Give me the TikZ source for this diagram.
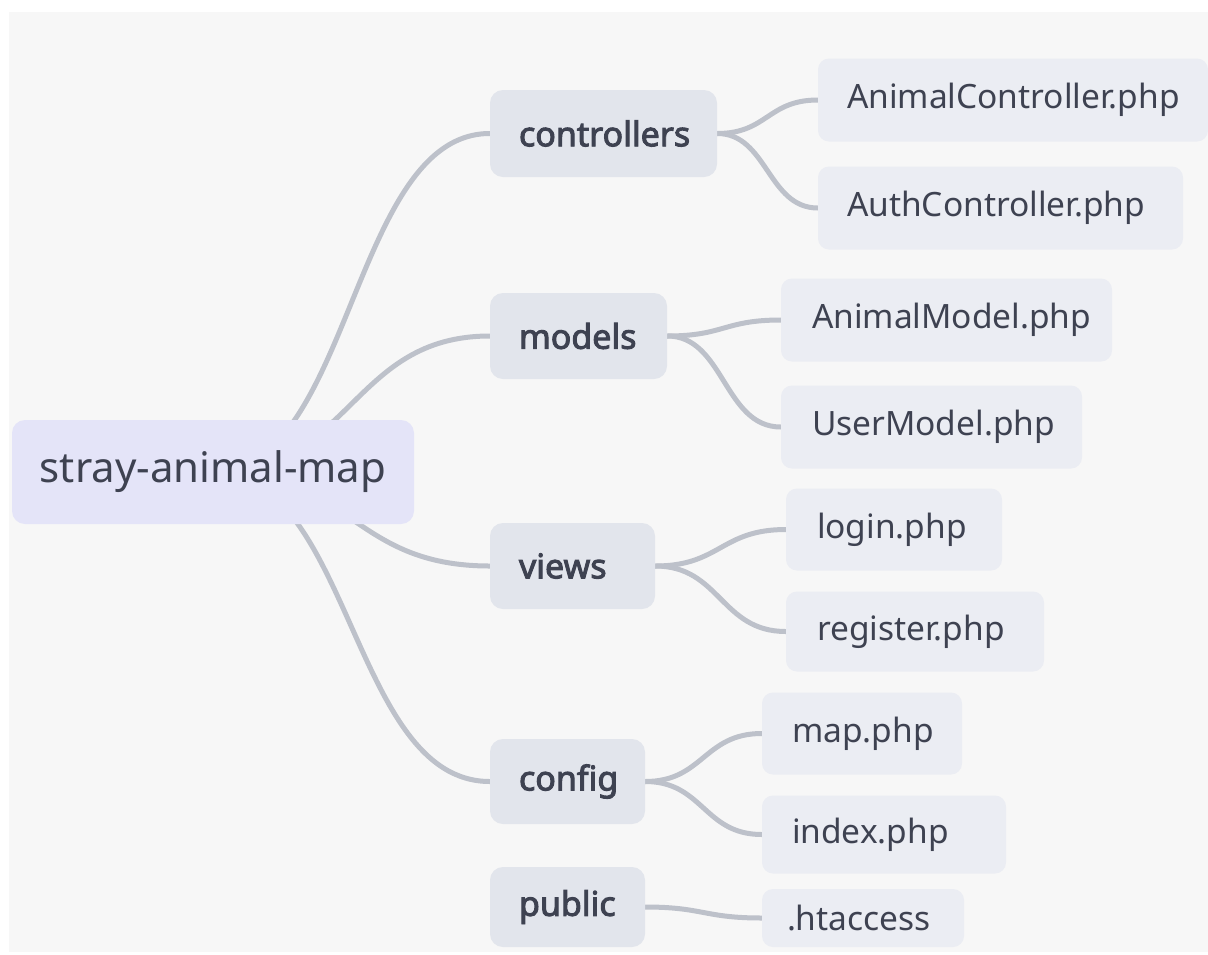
\documentclass[tikz,border=0pt]{standalone}
\usepackage{fontspec}
\setmainfont{Noto Sans}
\newfontfamily\dirfont{Noto Sans}[FakeBold=2.8]
\pgfdeclarelayer{bg}
\pgfsetlayers{bg,main}

\definecolor{canvas}{HTML}{F7F7F7}
\definecolor{rootfill}{HTML}{E4E4F8}
\definecolor{dirfill}{HTML}{E2E5EC}
\definecolor{filefill}{HTML}{EBEDF3}
\definecolor{ink}{HTML}{3E4251}
\definecolor{wire}{HTML}{BDC1CA}

% label set flush left inside a box of the given width
\newcommand{\lbl}[2]{\makebox[#1][l]{#2}}

\tikzset{
  rootbox/.style={fill=rootfill, rounded corners=13pt, text=ink, inner sep=0pt,
    font=\fontsize{42}{50}\selectfont},
  dirbox/.style={fill=dirfill, rounded corners=13pt, text=ink, inner sep=0pt,
    font=\dirfont\fontsize{34}{40}\selectfont},
  filebox/.style={fill=filefill, rounded corners=11pt, text=ink, inner sep=0pt,
    font=\fontsize{33.5}{40}\selectfont},
  wirestyle/.style={draw=wire, line width=5pt, line cap=round},
  trunk/.style={wirestyle, to path={.. controls +(138.5,0) and +(-138.5,0) .. (\tikztotarget)}},
  twig/.style={wirestyle, to path={.. controls +(#1,0) and +(-#1,0) .. (\tikztotarget)}}
}

\begin{document}
\begin{tikzpicture}[x=1pt, y=-1pt]
\useasboundingbox (0,0) rectangle (1208,954);

% root
\node[rootbox, minimum width=402pt, minimum height=104pt] (root) at (213,472) {stray-animal-map};

% directories
\node[dirbox, minimum width=227pt, minimum height=87pt] (ctl) at (603.5,133.5) {\lbl{169pt}{controllers}};
\node[dirbox, minimum width=177pt, minimum height=86pt] (mdl) at (578.5,336) {\lbl{119pt}{models}};
\node[dirbox, minimum width=165pt, minimum height=86pt] (vws) at (572.5,566) {\lbl{107pt}{views}};
\node[dirbox, minimum width=155pt, minimum height=85pt] (cfg) at (567.5,781.5) {\lbl{97pt}{config}};
\node[dirbox, minimum width=155pt, minimum height=80pt] (pub) at (567.5,907) {\lbl{97pt}{public}};

% files
\node[filebox, minimum width=390pt, minimum height=83pt] (anc) at (1013,100) {\lbl{332pt}{AnimalController.php}};
\node[filebox, minimum width=365pt, minimum height=83pt] (auc) at (1000.5,208) {\lbl{307pt}{AuthController.php}};
\node[filebox, minimum width=331pt, minimum height=83pt] (anm) at (946.5,320) {\lbl{269pt}{AnimalModel.php}};
\node[filebox, minimum width=301pt, minimum height=83pt] (usm) at (931.5,427) {\lbl{239pt}{UserModel.php}};
\node[filebox, minimum width=216pt, minimum height=82pt] (lgn) at (894,529.5) {\lbl{154pt}{login.php}};
\node[filebox, minimum width=258pt, minimum height=80pt] (reg) at (915,631.5) {\lbl{196pt}{register.php}};
\node[filebox, minimum width=200pt, minimum height=82pt] (map) at (862,733.5) {\lbl{140pt}{map.php}};
\node[filebox, minimum width=244pt, minimum height=78pt] (idx) at (884,834.5) {\lbl{184pt}{index.php}};
\node[filebox, minimum width=202pt, minimum height=58pt] (hta) at (863,918) {\lbl{152pt}{.htaccess}};

\begin{pgfonlayer}{bg}
  \fill[white] (0,0) rectangle (1208,954);
  \fill[canvas] (9,12) rectangle (1208,952);
  % root to directories
  \draw[trunk] (root.center) to (ctl.west);
  \draw[trunk] (root.center) to (mdl.west);
  \draw[trunk] (root.center) to (vws.west);
  \draw[trunk] (root.center) to (cfg.west);
  % directories to files
  \draw[twig=50] (ctl.east) to (anc.west);
  \draw[twig=50] (ctl.east) to (auc.west);
  \draw[twig=57] (mdl.east) to (anm.west);
  \draw[twig=57] (mdl.east) to (usm.west);
  \draw[twig=65] (vws.east) to (lgn.west);
  \draw[twig=65] (vws.east) to (reg.west);
  \draw[twig=58] (cfg.east) to (map.west);
  \draw[twig=58] (cfg.east) to (idx.west);
  \draw[twig=58] (pub.east) to (hta.west);
\end{pgfonlayer}
\end{tikzpicture}
\end{document}
